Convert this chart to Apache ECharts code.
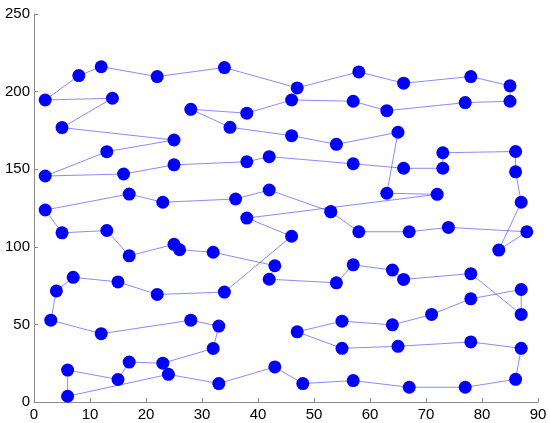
<!DOCTYPE html>
<html>
<head>
<meta charset="utf-8">
<script src="https://cdn.jsdelivr.net/npm/echarts@6/dist/echarts.min.js"></script>
<style>html,body{margin:0;padding:0;background:#fff}#c{width:550px;height:423px}</style>
</head>
<body>
<div id="c"></div>
<script>
// Tour order (closed loop)
var xs = [53,42,36,23,17,2,5,13,17,25,26,32,43,42,54,57,64,66,78,87,87,78,71,64,55,47,55,65,78,87,86,77,67,57,48,43,33,24,6,6,15,17,23,32,33,28,12,3,4,7,15,22,34,46,38,72,63,65,54,46,35,28,38,46,57,63,77,85,85,78,66,58,47,34,22,12,8,2,14,5,25,13,2,16,25,38,42,57,66,73,73,86,86,87,83,88,74,67,58];
var ys = [122.6,136.6,130.8,128.7,134,123.7,109,110.5,94.2,101.6,98.1,96.5,87.8,79.1,76.8,88.4,85,79,82.7,56.4,72.5,66.5,56.4,49.7,52.1,45.2,34.6,35.9,38.7,34.6,14.6,9.5,9.5,13.8,11.9,22.6,11.9,17.8,3.7,20.6,14.5,25.7,25,34.5,48.9,52.7,44,52.7,71.6,80.3,77.4,69.3,70.8,106.8,118.5,133.8,134.5,173.8,166,171.6,177,188.6,186.1,194.6,193.8,187.7,192.9,193.8,203.7,209.7,205.4,212.7,202.4,215.5,209.7,216,210.3,194.6,195.7,176.8,168.8,161.3,145.6,146.9,152.8,154.8,158.1,153.5,150.6,150.6,160.6,161.4,148.3,128.7,97.9,109.7,112.5,109.7,109.7];
var xTicks = [0,10,20,30,40,50,60,70,80,90];
var yTicks = [0,50,100,150,200,250];

var pts = xs.map(function(x,i){return [x, ys[i]];});
pts.push(pts[0]);

var chart = echarts.init(document.getElementById('c'), null, {renderer:'canvas'});
var axisCommon = {
  axisLine:{show:true, lineStyle:{color:'#8c8c8c', width:1}},
  axisTick:{show:true, inside:true, length:4, lineStyle:{color:'#8c8c8c'}},
  splitLine:{show:false},
  axisLabel:{color:'#000', fontSize:15, fontFamily:'Liberation Sans, Arial, sans-serif'}
};
chart.setOption({
  animation:false,
  grid:{left:34, right:12, top:14, bottom:21, containLabel:false},
  xAxis:Object.assign({type:'value', min:xTicks[0], max:xTicks[xTicks.length-1], interval:10}, JSON.parse(JSON.stringify(axisCommon)), {axisLabel:Object.assign({}, axisCommon.axisLabel, {margin:5})}),
  yAxis:Object.assign({type:'value', min:yTicks[0], max:yTicks[yTicks.length-1], interval:50}, JSON.parse(JSON.stringify(axisCommon)), {axisLabel:Object.assign({}, axisCommon.axisLabel, {margin:4})}),
  series:[{
    type:'line',
    data:pts,
    symbol:'circle',
    symbolSize:13,
    itemStyle:{color:'#0000ff'},
    lineStyle:{color:'rgba(60,60,255,0.6)', width:1},
    z:2
  }]
});
</script>
</body>
</html>
